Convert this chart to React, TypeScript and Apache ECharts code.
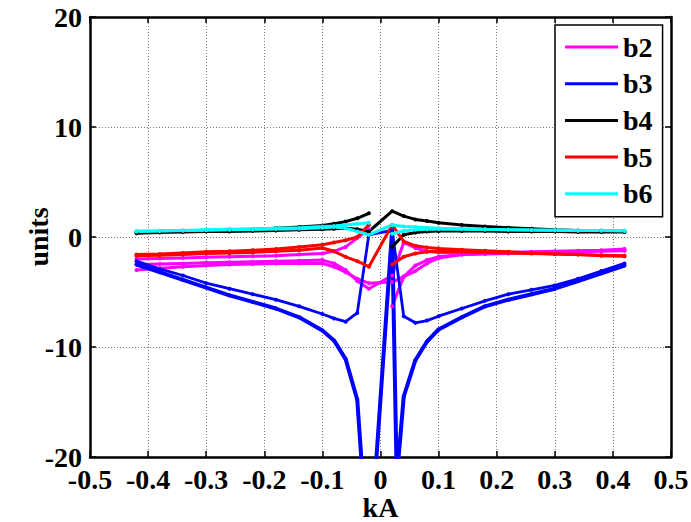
import React, { useEffect, useRef } from "react";
import * as echarts from "echarts";

// x positions of the measured points (kA)
const XL = [-0.42, -0.38, -0.34, -0.3, -0.26, -0.22, -0.18, -0.14, -0.1, -0.08, -0.06, -0.04, -0.02];
const XR = [0.02, 0.04, 0.06, 0.08, 0.1, 0.14, 0.18, 0.22, 0.26, 0.3, 0.34, 0.38, 0.42];
const XR_THICK = [0.02, 0.028, 0.04, 0.06, 0.08, 0.1, 0.14, 0.18, 0.22, 0.26, 0.3, 0.34, 0.38, 0.42];

const xTicks = [-0.5, -0.4, -0.3, -0.2, -0.1, 0, 0.1, 0.2, 0.3, 0.4, 0.5];
const yTicks = [-20, -10, 0, 10, 20];

// b2 (magenta)
const b2aLeft = [-2.0, -1.95, -1.9, -1.85, -1.8, -1.75, -1.7, -1.6, -1.5, -1.3, -0.9, -0.1, 0.7];
const b2aRight = [-6.3, -3.6, -2.6, -2.1, -1.8, -1.6, -1.5, -1.45, -1.4, -1.35, -1.3, -1.25, -1.2];
const b2bLeft = [-2.5, -2.45, -2.4, -2.35, -2.3, -2.25, -2.2, -2.15, -2.1, -2.4, -3.0, -4.0, -4.7];
const b2bRight = [-3.5, -0.5, -1.0, -1.3, -1.4, -1.45, -1.45, -1.4, -1.35, -1.3, -1.25, -1.2, -1.1];
const b2cLeft = [-3.0, -2.85, -2.7, -2.6, -2.5, -2.45, -2.4, -2.4, -2.4, -2.7, -3.2, -3.8, -4.2];
const b2cRight = [-4.1, -3.6, -3.1, -2.4, -1.9, -1.6, -1.55, -1.5, -1.45, -1.4, -1.35, -1.3, -1.25];

// b3 (blue)
const b3thinLeft = [-2.2, -2.9, -3.5, -4.2, -4.7, -5.2, -5.7, -6.3, -7.0, -7.4, -7.7, -6.9, 0.2];
const b3thinRight = [0.6, -7.2, -7.8, -7.6, -7.2, -6.5, -5.8, -5.2, -4.8, -4.4, -3.8, -3.1, -2.4];
const b3thickLeft = [-2.5, -3.2, -3.9, -4.6, -5.3, -5.9, -6.5, -7.3, -8.5, -9.4, -11.1, -14.8, -30];
const b3thickRight = [0.6, -22, -14.5, -11.2, -9.5, -8.4, -7.3, -6.3, -5.7, -5.2, -4.7, -4.0, -3.3, -2.6];

// b4 (black)
const b4aLeft = [0.45, 0.5, 0.55, 0.6, 0.65, 0.7, 0.8, 0.9, 1.05, 1.2, 1.4, 1.7, 2.15];
const b4aRight = [-0.9, 0.2, 0.4, 0.5, 0.55, 0.55, 0.55, 0.5, 0.5, 0.5, 0.45, 0.45, 0.45];
const b4bLeft = [0.35, 0.4, 0.45, 0.5, 0.5, 0.55, 0.6, 0.65, 0.7, 0.75, 0.8, 0.7, 0.5];
const b4bRight = [2.35, 1.9, 1.6, 1.45, 1.3, 1.1, 0.95, 0.85, 0.75, 0.65, 0.6, 0.55, 0.5];

// b5 (red)
const b5aLeft = [-1.6, -1.55, -1.45, -1.35, -1.3, -1.2, -1.1, -0.9, -0.7, -0.5, -0.3, 0.0, 1.1];
const b5aRight = [-2.5, -1.8, -1.5, -1.35, -1.3, -1.35, -1.4, -1.45, -1.5, -1.55, -1.6, -1.65, -1.7];
const b5bLeft = [-1.7, -1.65, -1.6, -1.5, -1.45, -1.4, -1.3, -1.2, -1.0, -1.3, -1.8, -2.2, -2.7];
const b5bRight = [1.1, -0.4, -0.8, -0.95, -1.05, -1.15, -1.25, -1.35, -1.45, -1.55, -1.6, -1.7, -1.75];

// b6 (cyan)
const b6aLeft = [0.55, 0.57, 0.6, 0.62, 0.65, 0.68, 0.72, 0.76, 0.85, 0.9, 0.8, 0.5, 0.2];
const b6aRight = [1.1, 0.95, 0.9, 0.85, 0.8, 0.75, 0.7, 0.67, 0.64, 0.62, 0.6, 0.6, 0.6];
const b6bLeft = [0.5, 0.55, 0.6, 0.65, 0.7, 0.75, 0.8, 0.85, 0.95, 1.0, 1.1, 1.2, 1.3];
const b6bRight = [0.3, 0.55, 0.65, 0.7, 0.72, 0.7, 0.68, 0.66, 0.64, 0.62, 0.6, 0.6, 0.55];

const names = ["b2", "b3", "b4", "b5", "b6"];
const colors: Record<string, string> = {
  b2: "#ff00ff",
  b3: "#0000ff",
  b4: "#000000",
  b5: "#ff0000",
  b6: "#00ffff",
};

const FONT = "'Liberation Serif', 'Times New Roman', serif";

function pairs(xs: number[], ys: number[]) {
  return xs.map((x, i) => [x, ys[i]]);
}

function line(name: string, data: number[][], width = 3) {
  return {
    type: "line",
    name,
    data,
    xAxisIndex: 0,
    yAxisIndex: 0,
    symbol: "circle",
    symbolSize: 4,
    showSymbol: true,
    clip: true,
    lineStyle: { color: colors[name], width },
    itemStyle: { color: colors[name] },
    emphasis: { disabled: true },
  };
}

export default function App() {
  const ref = useRef<HTMLDivElement>(null);
  useEffect(() => {
    if (!ref.current) return;
    const chart = echarts.init(ref.current, undefined, { renderer: "svg" });
    const labelStyle = {
      fontFamily: FONT,
      fontWeight: "bold" as const,
      fontSize: 28,
      color: "#000",
    };
    const fmtX = (v: number) => {
      const t = xTicks.find((k) => Math.abs(k - v) < 1e-9);
      const val = t === undefined ? v : t;
      return Math.abs(val) < 1e-9 ? "0" : val.toFixed(1);
    };
    const fmtY = (v: number) => {
      const t = yTicks.find((k) => Math.abs(k - v) < 1e-9);
      return String(t === undefined ? Math.round(v) : t);
    };
    const series = [
      // b2
      line("b2", pairs(XL, b2aLeft)),
      line("b2", pairs(XR, b2aRight)),
      line("b2", pairs(XL.concat(XR), b2bLeft.concat(b2bRight))),
      line("b2", pairs(XL.concat(XR), b2cLeft.concat(b2cRight))),
      // b3
      line("b3", pairs(XL.concat(XR), b3thinLeft.concat(b3thinRight)), 2.8),
      line("b3", pairs(XL.concat(XR_THICK), b3thickLeft.concat(b3thickRight)), 4),
      // b4
      line("b4", pairs(XL, b4aLeft)),
      line("b4", pairs(XR, b4aRight)),
      line("b4", pairs(XL.concat(XR), b4bLeft.concat(b4bRight))),
      // b5
      line("b5", pairs(XL, b5aLeft)),
      line("b5", pairs(XR, b5aRight)),
      line("b5", pairs(XL.concat(XR), b5bLeft.concat(b5bRight))),
      // b6
      line("b6", pairs(XL.concat(XR), b6aLeft.concat(b6aRight))),
      line("b6", pairs(XL, b6bLeft)),
      line("b6", pairs(XR, b6bRight)),
    ];
    const axisLine = { show: true, onZero: false, lineStyle: { color: "#000", width: 2.5 } };
    const tick = { show: true, inside: true, length: 6, lineStyle: { color: "#000", width: 1.5 } };
    const grid = { show: true, lineStyle: { color: "#777", width: 1, type: [1, 2] } };
    chart.setOption({
      animation: false,
      backgroundColor: "#fff",
      grid: {
        left: 90,
        right: 20,
        top: 17,
        bottom: 65,
        containLabel: false,
        outerBoundsMode: "none",
      },
      legend: {
        data: names,
        orient: "vertical",
        left: 555,
        top: 25,
        padding: [8, 10, 9, 10],
        itemWidth: 53,
        itemHeight: 3,
        itemGap: 8.7,
        icon: "rect",
        selectedMode: false,
        borderColor: "#000",
        borderWidth: 1.5,
        borderRadius: 0,
        backgroundColor: "#fff",
        textStyle: { ...labelStyle, lineHeight: 28 },
        z: 10,
      },
      xAxis: [
        {
          type: "value",
          position: "bottom",
          min: -0.5,
          max: 0.5,
          interval: 0.1,
          axisLine,
          axisTick: tick,
          axisLabel: { ...labelStyle, lineHeight: 20, margin: 12, formatter: fmtX },
          splitLine: grid,
          name: "kA",
          nameLocation: "middle",
          nameGap: 38,
          nameMoveOverlap: false,
          nameTextStyle: { ...labelStyle, lineHeight: 24 },
        },
        {
          type: "value",
          position: "top",
          min: -0.5,
          max: 0.5,
          interval: 0.1,
          axisLine,
          axisTick: tick,
          axisLabel: { show: false },
          splitLine: { show: false },
        },
      ],
      yAxis: [
        {
          type: "value",
          position: "left",
          min: -20,
          max: 20,
          interval: 10,
          axisLine,
          axisTick: tick,
          axisLabel: { ...labelStyle, lineHeight: 20, margin: 8, formatter: fmtY },
          splitLine: grid,
          name: "units",
          nameLocation: "middle",
          nameGap: 38,
          nameRotate: 90,
          nameMoveOverlap: false,
          nameTextStyle: labelStyle,
        },
        {
          type: "value",
          position: "right",
          min: -20,
          max: 20,
          interval: 10,
          axisLine,
          axisTick: tick,
          axisLabel: { show: false },
          splitLine: { show: false },
        },
      ],
      series,
    });
    return () => chart.dispose();
  }, []);
  return (
    <div
      ref={ref}
      style={{ position: "fixed", left: 0, top: 0, width: 691, height: 522, background: "#fff" }}
    />
  );
}
